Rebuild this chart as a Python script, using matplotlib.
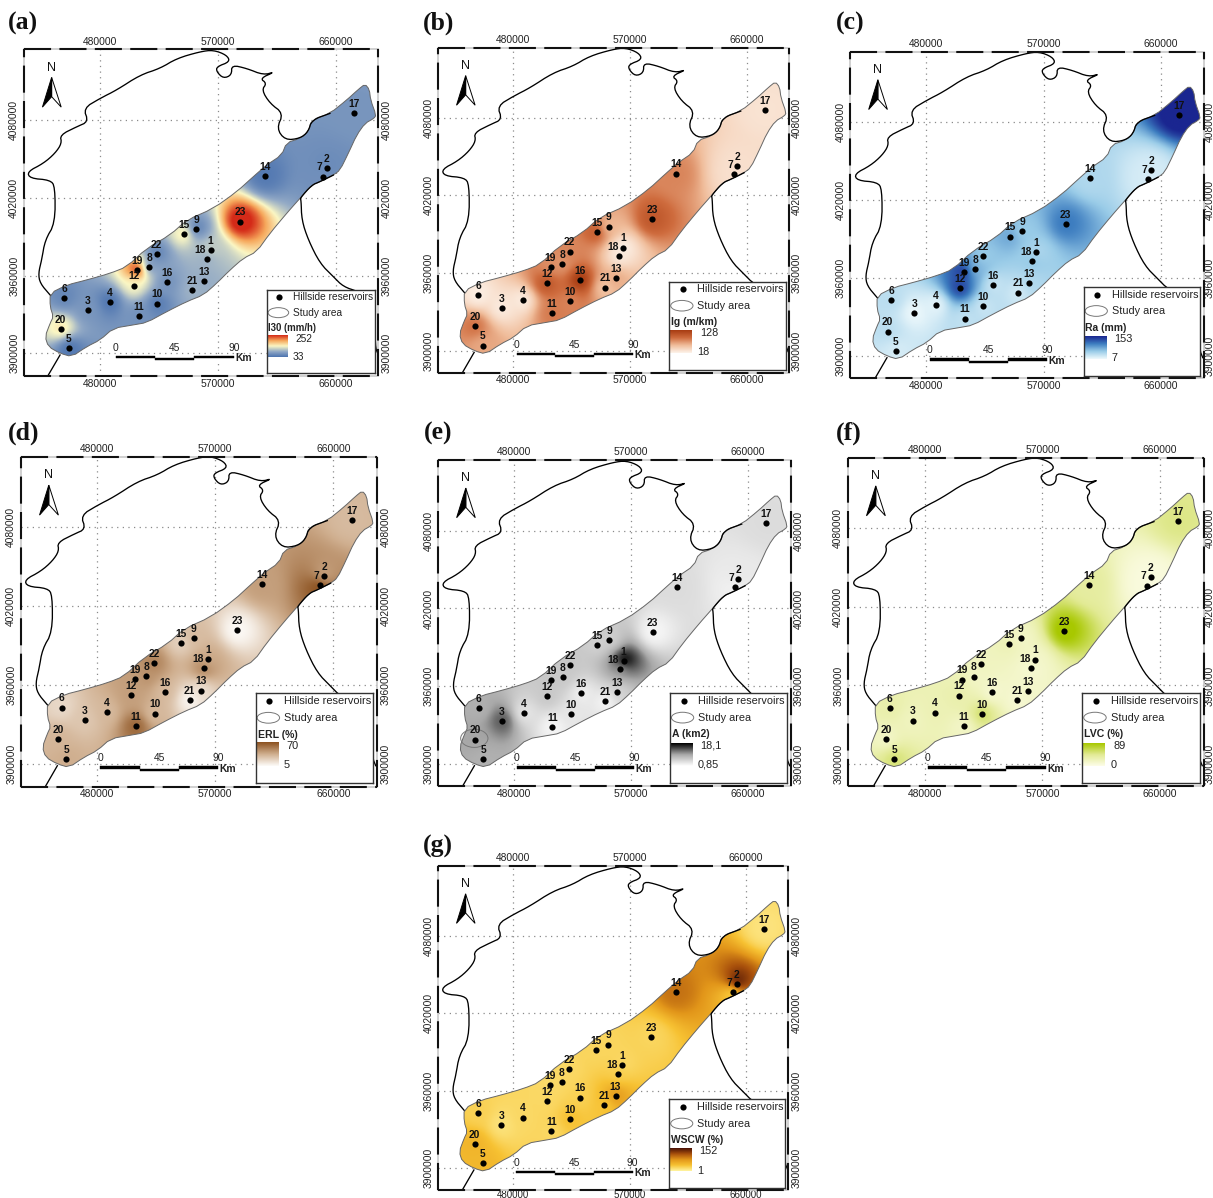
import numpy as np
import matplotlib
matplotlib.use('Agg')
import matplotlib.pyplot as plt
from matplotlib.colors import LinearSegmentedColormap
from matplotlib.patches import Polygon, Ellipse, Rectangle

W = 1213
H = 1198
plt.rcParams['font.family'] = ['Liberation Sans', 'DejaVu Sans']

# reservoirs, UTM km
res_id = list(range(1, 24))
res_x = [564.5, 652.9, 470.9, 487.6, 456.6, 453.1, 650.1, 517.6, 553.6, 523.9, 509.7, 505.9,
         559.2, 605.7, 544.2, 531.5, 674.0, 561.5, 508.7, 450.3, 550.6, 523.4, 586.9]
res_y = [3979.7, 4042.7, 3933.2, 3939.3, 3903.9, 3942.9, 4036.3, 3966.8, 3995.9, 3938.3, 3928.8, 3952.2,
         3955.8, 4036.8, 3991.8, 3954.8, 4085.6, 3973.0, 3964.5, 3918.8, 3948.8, 3976.6, 4001.6]

# value at each reservoir, estimated from the colours
i30 = [110, 55, 65, 33, 33, 50, 60, 55, 40, 38, 60, 135, 85, 38, 150, 60, 65, 85, 252, 150, 90, 45, 252]
ig = [18, 30, 22, 20, 60, 20, 30, 65, 50, 75, 80, 105, 60, 75, 100, 128, 28, 22, 70, 85, 45, 75, 100]
ra = [40, 20, 7, 10, 20, 35, 20, 60, 50, 25, 30, 135, 40, 40, 75, 25, 153, 55, 140, 35, 20, 50, 100]
erl = [35, 35, 25, 30, 35, 18, 70, 45, 30, 30, 60, 40, 15, 40, 20, 30, 30, 50, 40, 32, 5, 50, 5]
area = [18.1, 3, 13, 3, 8, 8, 2, 6, 5, 3, 1.5, 6, 5, 4, 5, 2, 4, 9, 6, 9, 1.5, 6, 1.5]
lvc = [15, 5, 20, 25, 50, 30, 5, 15, 15, 55, 15, 30, 15, 35, 25, 10, 45, 10, 25, 15, 10, 20, 89]
wscw = [18, 152, 12, 20, 45, 25, 8, 20, 22, 38, 20, 20, 70, 90, 22, 25, 12, 28, 18, 48, 32, 20, 22]
range_low = [33, 18, 7, 5, 0.85, 0, 1]
range_high = [252, 128, 153, 70, 18.1, 89, 152]

# study area outline
area_x = [682.1, 685.4, 686.4, 690.5, 689, 682.1, 675.8, 669.4, 663.1, 658, 647.8, 641.5, 632.6, 622.4, 609.7,
          599.6, 589.4, 579.3, 569.1, 559, 546.3, 531, 515.8, 505.6, 490.4, 480.3, 470.1, 458.7, 449.8, 440.9,
          438.4, 442.2, 444.7, 442.2, 442.2, 454.9, 470.1, 487.9, 500.6, 515.8, 533.6, 546.3, 566.6, 584.4,
          597, 607.2, 618.6, 622.4, 632.6, 638.9, 641.5, 655.4, 668.1, 677]
area_y = [4107.7, 4103.6, 4095.4, 4083.8, 4081.3, 4077.4, 4068.4, 4054.3, 4041.4, 4037.5, 4032.4, 4029.8, 4019.6,
          4008, 3992.6, 3978.4, 3973.3, 3964.3, 3954, 3945, 3939.9, 3932.1, 3923.7, 3921.9, 3919.3, 3910.3,
          3905.1, 3897.4, 3900, 3905.1, 3912.9, 3923.1, 3928.3, 3936, 3946.3, 3952.7, 3956.6, 3961.7, 3966.8,
          3981, 3991.3, 4002.8, 4011.8, 4024.7, 4036.3, 4045.3, 4053, 4062.5, 4065.8, 4071, 4080, 4085.1,
          4095.4, 4103.6]

# coast
north_x = [442.2, 434.6, 433.3, 435.8, 438.4, 446, 446, 442.2, 426.9, 424.9, 437.1, 446, 451.1, 449.8, 462.5,
           471.4, 467.6, 480.3, 492.9, 510.7, 526, 538.7, 556.4, 566.6, 576.7, 579.3, 569.1, 569.1, 574.2, 580.5,
           580.5, 592, 604.7, 613.6, 602.1, 607.2, 603.4, 609.7, 619.9, 614.8, 621.2, 632.6, 638.9, 641.5, 655.4]
north_y = [3945, 3954, 3961.7, 3972, 3987.4, 4000.3, 4028.6, 4033.7, 4035, 4040.1, 4046.5, 4054.3, 4062, 4068.4,
           4074.8, 4078.7, 4089, 4096.7, 4103.1, 4114.7, 4119.8, 4127.5, 4132.7, 4134, 4130.1, 4125, 4121.1,
           4117.2, 4112.1, 4114.7, 4122.4, 4119.8, 4114.7, 4117.2, 4112.1, 4108.3, 4103.1, 4092.8, 4085.1,
           4073.5, 4064.5, 4065.8, 4071, 4080, 4085.1]
south_x = [658, 647.8, 641.5, 632.6, 633.4, 633.9, 638.9, 647.8, 658, 665.6, 677, 689.7, 689.7, 692.3]
south_y = [4037.5, 4032.4, 4029.8, 4019.6, 4018.3, 4002.8, 3987.4, 3969.4, 3959.1, 3951.4, 3947.6, 3941, 3905.1, 3898.7]
sw_x = [440.9, 449.8]
sw_y = [3883.3, 3898.7]

x_grid = [480, 570, 660]
y_grid = [3900, 3960, 4020, 4080]
scale_ticks = [0, 45, 90]

panel_letters = ['(a)', '(b)', '(c)', '(d)', '(e)', '(f)', '(g)']
legend_titles = ['I30 (mm/h)', 'Ig (m/km)', 'Ra (mm)', 'ERL (%)', 'A (km2)', 'LVC (%)', 'WSCW (%)']
legend_top = ['252', '128', '153', '70', '18,1', '89', '152']
legend_bottom = ['33', '18', '7', '5', '0,85', '0', '1']
panel_values = [i30, ig, ra, erl, area, lvc, wscw]
panel_colors = [
    ['#4d74b0', '#93aac6', '#fbf7c4', '#f6a85c', '#d42a18'],
    ['#fdf3ea', '#f0bd9b', '#cf6c3e', '#a83c12'],
    ['#eef9fc', '#9accE8', '#3d7dc0', '#1a2690'],
    ['#fdfbf8', '#cfae8e', '#8c5220'],
    ['#ffffff', '#a8a8a8', '#000000'],
    ['#fdfde8', '#e2ea94', '#a8c800'],
    ['#fff3a0', '#f7c233', '#e2961a', '#a8500c', '#4a1206'],
]

# pixel layout: left, right, top, bottom, x of 480000, x of 660000, y of 4080000, y of 3900000
frames = [
    (24, 378.3, 49.3, 376, 99.7, 336, 120, 353.3),
    (438.3, 789, 47.7, 372.7, 513.3, 746.7, 117.7, 350.7),
    (850.3, 1203.7, 51.7, 378.3, 926.3, 1160.7, 122, 356),
    (21, 377.3, 456.7, 786.7, 97, 333.3, 527.3, 764),
    (438.3, 790.7, 460, 786, 513.7, 747.7, 530.7, 764),
    (848, 1203.7, 457.7, 786, 924.7, 1160, 528.3, 764),
    (438.3, 788.3, 866, 1190, 513, 746, 936, 1168.3),
]
# legend box: left, right, top, bottom
legends = [
    (266.7, 375, 290, 373.3),
    (669.3, 786, 281.7, 370),
    (1083.7, 1200.3, 286.7, 376),
    (255.7, 373.3, 693.3, 783.3),
    (670, 786.7, 693.3, 782.7),
    (1082.3, 1200, 693.3, 782.7),
    (669.3, 785, 1099.3, 1188.3),
]
letter_pos = [(8, 23), (423, 23), (836, 23), (8, 433), (424, 433), (836, 433), (423, 846)]
scale_start = [492.2, 482.5, 482.5, 482.5, 482.5, 482.5, 482.5]
right_pad = [2.2, 2.2, 0.6, 2.2, 2.2, 0.6, 2.2]
bottom_pad = [2, 2, 2, 2, 2, 2, 0.1]
label_dx = {7: -2.5, 18: -4.5}


def px_axes(fig, l, r, t, b):
    return fig.add_axes([l / W, 1 - b / H, (r - l) / W, (b - t) / H])


def smooth(xs, ys, closed=False, rounds=2):
    # corner cutting so the digitised outlines do not look angular
    pts = np.column_stack([xs, ys])
    for _ in range(rounds):
        nxt = np.roll(pts, -1, axis=0) if closed else pts[1:]
        cur = pts if closed else pts[:-1]
        q = 0.75 * cur + 0.25 * nxt
        r = 0.25 * cur + 0.75 * nxt
        new = np.empty((len(q) * 2, 2))
        new[0::2] = q
        new[1::2] = r
        if not closed:
            new = np.vstack([pts[0], new, pts[-1]])
        pts = new
    return pts


def spread(vals, gx, gy):
    xs = np.array(res_x)
    ys = np.array(res_y)
    d2 = (gx[..., None] - xs) ** 2 + (gy[..., None] - ys) ** 2 + 45.0
    w = d2 ** -1.5
    return (w * np.array(vals)).sum(axis=-1) / w.sum(axis=-1)


fig = plt.figure(figsize=(W / 100, H / 100), dpi=100)
gx, gy = np.meshgrid(np.linspace(430, 695, 400), np.linspace(3890, 4112, 340))
outline = smooth(area_x, area_y, closed=True, rounds=1)
north_line = smooth(north_x, north_y)
south_line = smooth(south_x, south_y)

for i in range(7):
    l, r, t, b, x480, x660, y4080, y3900 = frames[i]
    ax = px_axes(fig, l, r, t, b)
    kx = 180.0 / (x660 - x480)
    ky = 180.0 / (y3900 - y4080)
    xlim = (480 + (l - x480) * kx, 480 + (r - x480) * kx)
    ylim = (3900 - (b - y3900) * ky, 3900 + (y3900 - t) * ky)
    ax.set_xlim(xlim)
    ax.set_ylim(ylim)

    x_text = [str(v * 1000) for v in x_grid]
    y_text = [str(v * 1000) for v in y_grid]
    ax.set_xticks(x_grid)
    ax.set_yticks(y_grid)
    ax.set_xticklabels(x_text, fontsize=7.4, color='#222222')
    ax.set_yticklabels(y_text, fontsize=7.4, color='#222222', rotation=90, va='center')
    ax.tick_params(axis='x', length=0, pad=2, top=True, labeltop=True, bottom=False, labelbottom=False)
    ax.tick_params(axis='y', length=0, pad=3.5)
    ax.grid(True, color='#8a8a8a', linestyle=(0, (1, 3.5)), linewidth=0.9, zorder=1)
    ax.set_axisbelow(True)

    sec = ax.secondary_yaxis('right')
    sec.set_yticks(y_grid)
    sec.set_yticklabels(y_text, fontsize=7.4, color='#222222', rotation=90, va='center')
    sec.tick_params(length=0, pad=right_pad[i])
    sec.spines['right'].set_visible(False)
    sec_x = ax.secondary_xaxis('bottom')
    sec_x.set_xticks(x_grid)
    sec_x.set_xticklabels(x_text, fontsize=7.4 if i < 6 else 7.0, color='#222222')
    sec_x.tick_params(length=0, pad=bottom_pad[i])
    sec_x.spines['bottom'].set_visible(False)

    # frame: pale line with long black dashes over it
    for s in ax.spines.values():
        s.set_color('#c8c8c8')
        s.set_linewidth(1.2)
    for fx, fy in [([0, 1], [0, 0]), ([0, 1], [1, 1]), ([0, 0], [0, 1]), ([1, 1], [0, 1])]:
        ax.plot(fx, fy, transform=ax.transAxes, color='#111111', lw=1.5, linestyle=(0, (13, 4)),
                clip_on=False, zorder=6)

    cmap = LinearSegmentedColormap.from_list('m%d' % i, panel_colors[i])
    vals = panel_values[i]
    field = spread(vals, gx, gy)
    im = ax.imshow(field, origin='lower', extent=(430, 695, 3890, 4112), cmap=cmap,
                   vmin=range_low[i], vmax=range_high[i] * 0.93, aspect='auto', zorder=2, interpolation='bilinear')
    ax.set_xlim(xlim)
    ax.set_ylim(ylim)
    im.set_clip_path(Polygon(outline, closed=True, transform=ax.transData))
    ax.add_patch(Polygon(outline, closed=True, fill=False, edgecolor='#666666', lw=0.7, zorder=3))

    ax.plot(north_line[:, 0], north_line[:, 1], color='black', lw=0.95, zorder=3)
    ax.plot(south_line[:, 0], south_line[:, 1], color='black', lw=0.95, zorder=3)
    ax.plot(sw_x, sw_y, color='black', lw=0.95, zorder=3)

    if i == 4:
        # stray study area ellipse left on map (e)
        ax.add_patch(Ellipse((449.7, 3919.8), 21, 14, fill=False, edgecolor='#777777', lw=0.7, zorder=3))

    ax.scatter(res_x, res_y, s=20, color='black', linewidths=0, zorder=4)
    for n, px, py in zip(res_id, res_x, res_y):
        ax.annotate(str(n), (px, py), xytext=(label_dx.get(n, 0), 3), textcoords='offset points',
                    ha='center', va='bottom', fontsize=7.4, fontweight='bold', color='#111111', zorder=5)

    # north arrow, axes fractions
    ax.text(0.078, 0.944, 'N', transform=ax.transAxes, ha='center', va='center', fontsize=9, color='#111111')
    ax.add_patch(Polygon([(0.078, 0.914), (0.105, 0.823), (0.078, 0.855)], closed=True, transform=ax.transAxes,
                         facecolor='white', edgecolor='black', lw=0.7, zorder=5))
    ax.add_patch(Polygon([(0.078, 0.914), (0.052, 0.823), (0.078, 0.855)], closed=True, transform=ax.transAxes,
                         facecolor='black', edgecolor='black', lw=0.7, zorder=5))

    # scale bar
    x0 = scale_start[i]
    ax.add_patch(Rectangle((x0, 3894.8), 90, 3.4, facecolor='white', edgecolor='none', zorder=5))
    for k in range(3):
        yb = 3896.5 if k != 1 else 3894.8
        ax.add_patch(Rectangle((x0 + k * 30, yb), 30, 1.7, facecolor='black', edgecolor='black', lw=0.3, zorder=5))
    for v in scale_ticks:
        ax.text(x0 + v, 3900.5, str(v), ha='center', va='bottom', fontsize=7.4, color='#222222', zorder=5)
    ax.text(x0 + 91, 3896.5, 'Km', ha='left', va='center', fontsize=7.4, fontweight='bold', color='#222222', zorder=5)

    # legend box
    ll, lr, lt, lb = legends[i]
    lg = px_axes(fig, ll, lr, lt, lb)
    lg.set_zorder(10)
    lg.set_xticks([])
    lg.set_yticks([])
    for s in lg.spines.values():
        s.set_color('#333333')
        s.set_linewidth(1.0)
    fs = 7.3 * (lr - ll) / 108.3
    lg.scatter([38], [22], s=20, color='black', linewidths=0)
    lg.text(78, 22, 'Hillside reservoirs', fontsize=fs, va='center', ha='left', color='#222222')
    lg.add_patch(Ellipse((35, 68), 62, 30, facecolor='white', edgecolor='#777777', lw=0.7))
    lg.text(78, 68, 'Study area', fontsize=fs, va='center', ha='left', color='#222222')
    lg.text(5, 115, legend_titles[i], fontsize=fs * 0.95, fontweight='bold', va='center', ha='left', color='#222222')
    lg.imshow(np.linspace(1, 0, 64).reshape(-1, 1), cmap=cmap, extent=(3, 62, 202, 138), aspect='auto')
    lg.set_xlim(0, 325)
    lg.set_ylim(250, 0)
    lg.text(85, 146, legend_top[i], fontsize=fs, va='center', ha='left', color='#222222')
    lg.text(78, 200, legend_bottom[i], fontsize=fs, va='center', ha='left', color='#222222')

    fig.text(letter_pos[i][0] / W, 1 - letter_pos[i][1] / H, panel_letters[i], family='Liberation Serif',
             fontweight='bold', fontsize=18.5, ha='left', va='center', color='#111111')

fig.savefig('out.png', dpi=100)
